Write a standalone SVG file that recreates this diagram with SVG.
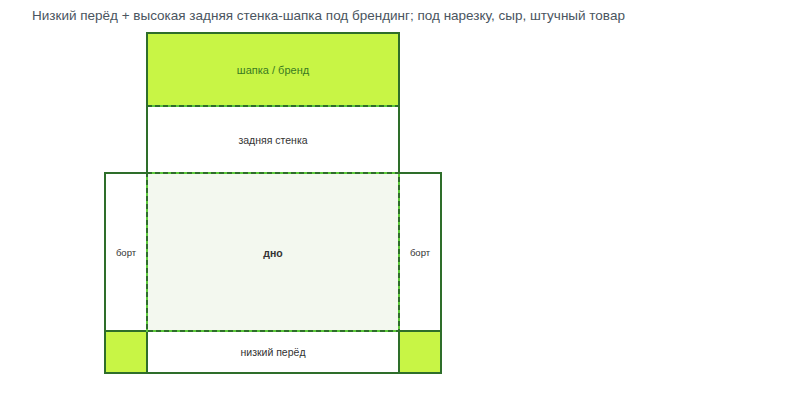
<svg xmlns="http://www.w3.org/2000/svg" width="798" height="400" viewBox="0 0 798 400">
<style>
.cut{stroke:#2e6e2a;stroke-width:2;}
.fold{fill:none;stroke:#2e6e2a;stroke-width:2;stroke-dasharray:5 3;}
.foldbg{fill:none;stroke:#5cc93a;stroke-width:2;}
text{font-family:"Liberation Sans",Arial,sans-serif;text-anchor:middle;fill:#333;}
.lbl{font-size:10.5px;}
</style>
<rect width="798" height="400" fill="#ffffff"/>
<text x="32" y="20" style="text-anchor:start;font-size:13.5px;fill:#4a5560">Низкий перёд + высокая задняя стенка-шапка под брендинг; под нарезку, сыр, штучный товар</text>
<g id="shapka"><rect class="cut" x="147" y="33" width="252" height="73" fill="#c8f545"/><text x="273" y="74" style="font-size:11px;fill:#3a7a22">шапка / бренд</text></g>
<g id="back"><rect class="cut" x="147" y="106" width="252" height="67" fill="#ffffff"/><text class="lbl" x="273" y="144">задняя стенка</text></g>
<g id="side-left"><rect class="cut" x="105" y="173" width="42" height="158" fill="#ffffff"/><text x="126" y="256" style="font-size:9.5px">борт</text></g>
<g id="side-right"><rect class="cut" x="399" y="173" width="42" height="158" fill="#ffffff"/><text x="420" y="256" style="font-size:9.5px">борт</text></g>
<g id="front"><rect class="cut" x="147" y="331" width="252" height="42" fill="#ffffff"/><text class="lbl" x="273" y="356">низкий перёд</text></g>
<g id="corner-left"><rect class="cut" x="105" y="331" width="42" height="42" fill="#c8f545"/></g>
<g id="corner-right"><rect class="cut" x="399" y="331" width="42" height="42" fill="#c8f545"/></g>
<g id="bottom"><rect x="147" y="173" width="252" height="158" fill="#f3f8ef"/><text x="273" y="257" style="font-size:10.5px;font-weight:bold">дно</text></g>
<g id="folds">
<line class="foldbg" x1="147" y1="106" x2="399" y2="106"/>
<line class="fold" x1="147" y1="106" x2="399" y2="106"/>
<rect class="foldbg" x="147" y="173" width="252" height="158"/>
<rect class="fold" x="147" y="173" width="252" height="158"/>
</g>
</svg>
